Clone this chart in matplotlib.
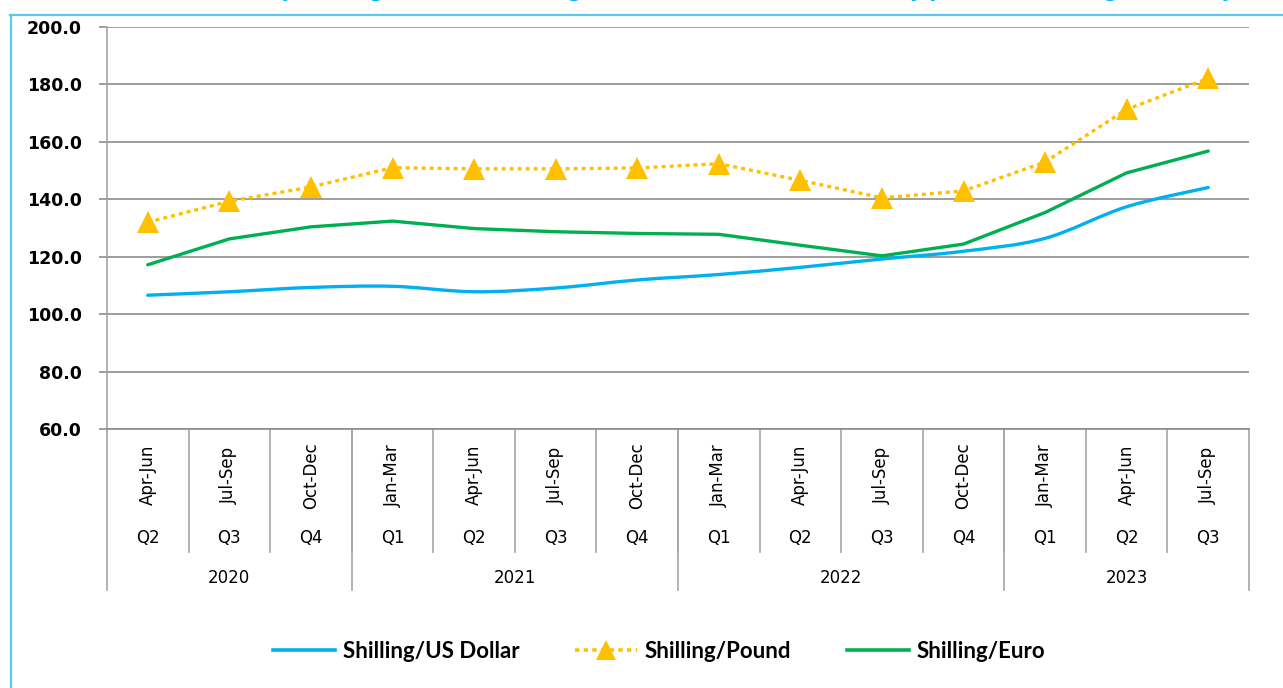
import matplotlib as mpl
import matplotlib.pyplot as plt
from matplotlib.lines import Line2D
from matplotlib.path import Path
from matplotlib.patches import PathPatch

# data
months = ["Apr-Jun", "Jul-Sep", "Oct-Dec", "Jan-Mar", "Apr-Jun", "Jul-Sep", "Oct-Dec",
          "Jan-Mar", "Apr-Jun", "Jul-Sep", "Oct-Dec", "Jan-Mar", "Apr-Jun", "Jul-Sep"]
quarters = ["Q2", "Q3", "Q4", "Q1", "Q2", "Q3", "Q4", "Q1", "Q2", "Q3", "Q4", "Q1", "Q2", "Q3"]
years = ["2020", "2021", "2022", "2023"]
year_counts = [3, 4, 4, 3]

usd = [106.6, 107.8, 109.3, 109.7, 107.8, 109.1, 111.9, 113.8, 116.3, 119.2, 121.9, 126.4, 137.4, 144.1]
pound = [132.0, 139.3, 144.3, 151.0, 150.6, 150.6, 150.9, 152.4, 146.6, 140.5, 142.9, 153.0, 171.3, 182.1]
euro = [117.2, 126.2, 130.4, 132.4, 129.8, 128.7, 128.1, 127.8, 124.0, 120.3, 124.4, 135.4, 149.2, 156.8]

title = "Quarterly Shilling Nominal Exchange Rates (Units of local currency per unit of foreign currency)"

c_usd = "#00b0f0"
c_pound = "#ffc000"
c_euro = "#00b050"
grid_c = "#8c8c8c"
sep_c = "#a6a6a6"
cat_font = dict(family="DejaVu Sans", fontsize=12)

W, H = 1283, 688
fig = plt.figure(figsize=(W / 100, H / 100), dpi=100)
ax = fig.add_axes([107 / W, 1 - 429 / H, (1249 - 107) / W, (429 - 27) / H])

x = list(range(len(months)))


def smooth_path(xs, ys):
    # bezier segments like a spreadsheet "smoothed line"
    verts = [(xs[0], ys[0])]
    codes = [Path.MOVETO]
    n = len(xs)
    for i in range(n - 1):
        x0, y0 = xs[max(i - 1, 0)], ys[max(i - 1, 0)]
        x1, y1 = xs[i], ys[i]
        x2, y2 = xs[i + 1], ys[i + 1]
        x3, y3 = xs[min(i + 2, n - 1)], ys[min(i + 2, n - 1)]
        verts += [(x1 + (x2 - x0) / 6, y1 + (y2 - y0) / 6),
                  (x2 - (x3 - x1) / 6, y2 - (y3 - y1) / 6),
                  (x2, y2)]
        codes += [Path.CURVE4] * 3
    return Path(verts, codes)


ax.add_patch(PathPatch(smooth_path(x, usd), facecolor="none", edgecolor=c_usd,
                       lw=2.4, capstyle="round", zorder=3))
ax.plot(x, euro, color=c_euro, lw=2.4, solid_capstyle="round", zorder=3)
ax.plot(x, pound, color=c_pound, lw=2.4, dashes=(1.2, 1.2), dash_capstyle="butt",
        marker="^", markersize=16, markeredgewidth=0, zorder=4)

ax.set_xlim(-0.5, len(months) - 0.5)
ax.set_ylim(60, 200)
ax.set_yticks(range(60, 201, 20))
ax.set_yticklabels(["%.1f" % v for v in range(60, 201, 20)],
                   fontsize=12.5, fontweight="bold", family="DejaVu Sans")
ax.yaxis.grid(True, color=grid_c, lw=1.2)
ax.set_axisbelow(True)
ax.tick_params(axis="y", length=6, width=1.2, color=grid_c, pad=12)
ax.set_xticks([])
for s in ["top", "right", "left"]:
    ax.spines[s].set_visible(False)
ax.spines["bottom"].set_color(grid_c)
ax.spines["bottom"].set_linewidth(1.2)

# left axis line running down through the category table
ax.add_line(Line2D([0, 0], [1, -0.4], transform=ax.transAxes, color=sep_c, lw=1.2, clip_on=False))

trans = ax.get_xaxis_transform()
for i in range(len(months)):
    ax.text(i, -0.115, months[i], rotation=90, ha="center", va="center",
            transform=trans, **cat_font)
    ax.text(i, -0.27, quarters[i], ha="center", va="center", transform=trans, **cat_font)

for k in range(1, len(months)):
    ax.add_line(Line2D([k - 0.5, k - 0.5], [0, -0.306], transform=trans, color=sep_c,
                       lw=1.2, clip_on=False))

start = 0
for yr, cnt in zip(years, year_counts):
    ax.text(start + cnt / 2 - 0.5, -0.371, yr, ha="center", va="center",
            transform=trans, **cat_font)
    start += cnt
    ax.add_line(Line2D([start - 0.5, start - 0.5], [0, -0.4], transform=trans, color=sep_c,
                       lw=1.2, clip_on=False))

# legend
handles = [Line2D([], [], color=c_usd, lw=2.6),
           Line2D([], [], color=c_pound, lw=2.6, dashes=(1.2, 1.2), marker="^",
                  markersize=14, markeredgewidth=0),
           Line2D([], [], color=c_euro, lw=2.6)]
fig.legend(handles, ["Shilling/US Dollar", "Shilling/Pound", "Shilling/Euro"],
           loc="center", bbox_to_anchor=(659 / W, 1 - 651 / H), ncol=3, frameon=False,
           handlelength=2.8, handletextpad=0.35, columnspacing=2.5,
           prop={"family": "Lato", "weight": "bold", "size": 16})

# frame border and the clipped title above it
fig.add_artist(Line2D([10.5 / W, 10.5 / W], [0, 1 - 15 / H], transform=fig.transFigure,
                      color="#5bc8f0", lw=1.6))
fig.add_artist(Line2D([10 / W, 1], [1 - 15 / H, 1 - 15 / H], transform=fig.transFigure,
                      color="#5bc8f0", lw=1.6))
fig.text(1243 / W, 1 + 4 / H, title, ha="right", va="baseline", color=c_usd,
         fontsize=16, fontweight="bold", family="Open Sans")

fig.savefig("out.png", dpi=100)
